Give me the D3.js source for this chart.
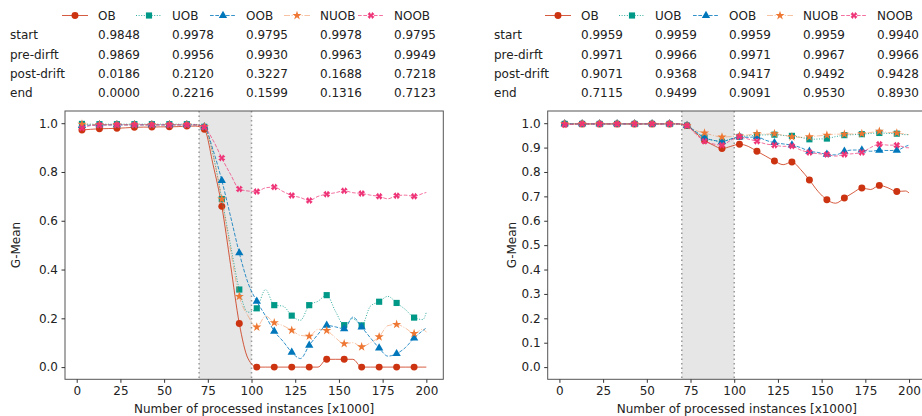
<!DOCTYPE html>
<html lang="en">
<head>
<meta charset="utf-8">
<script src="https://cdn.jsdelivr.net/npm/d3@7"></script>
<style>
  body { margin: 0; background: #fff; }
  text { font-family: "DejaVu Sans", sans-serif; fill: #222; }
</style>
</head>
<body>
<svg width="922" height="416"></svg>
<script>
// methods and table rows
var methods = ["OB", "UOB", "OOB", "NUOB", "NOOB"];
var rowLabels = ["start", "pre-dirft", "post-drift", "end"];

// table values (per row, one per method)
var tableLeft = [
    ["0.9848", "0.9978", "0.9795", "0.9978", "0.9795"],
    ["0.9869", "0.9956", "0.9930", "0.9963", "0.9949"],
    ["0.0186", "0.2120", "0.3227", "0.1688", "0.7218"],
    ["0.0000", "0.2216", "0.1599", "0.1316", "0.7123"]
];
var tableRight = [
    ["0.9959", "0.9959", "0.9959", "0.9959", "0.9940"],
    ["0.9971", "0.9966", "0.9971", "0.9967", "0.9966"],
    ["0.9071", "0.9368", "0.9417", "0.9492", "0.9428"],
    ["0.7115", "0.9499", "0.9091", "0.9530", "0.8930"]
];

// x positions of the samples [x1000]
var xs = [3, 8, 13, 18, 23, 28, 33, 38, 43, 48, 53, 58, 63, 68, 73, 78, 83, 88, 93, 98,
          103, 108, 113, 118, 123, 128, 133, 138, 143, 148, 153, 158, 163, 168, 173, 178, 183, 188, 193, 198, 200];

// left panel G-Mean
var obLeft   = [0.972, 0.975, 0.977, 0.978, 0.979, 0.981, 0.983, 0.984, 0.984, 0.985, 0.985, 0.986, 0.988, 0.988, 0.975, 0.83, 0.659, 0.42, 0.179, 0.035,
                0.0, 0.0, 0.0, 0.0, 0.0, 0.0, 0.0, 0.0, 0.032, 0.032, 0.032, 0.032, 0.0, 0.0, 0.0, 0.0, 0.0, 0.0, 0.0, 0.0, 0.0];
var uobLeft  = [0.997, 0.996, 0.996, 0.996, 0.996, 0.996, 0.996, 0.996, 0.996, 0.996, 0.996, 0.996, 0.996, 0.995, 0.985, 0.87, 0.689, 0.50, 0.318, 0.225,
                0.241, 0.318, 0.254, 0.25, 0.211, 0.192, 0.254, 0.27, 0.295, 0.229, 0.172, 0.199, 0.171, 0.25, 0.268, 0.29, 0.263, 0.236, 0.203, 0.195, 0.225];
var oobLeft  = [0.990, 0.992, 0.993, 0.993, 0.993, 0.993, 0.993, 0.993, 0.993, 0.993, 0.993, 0.993, 0.993, 0.993, 0.985, 0.89, 0.765, 0.618, 0.468, 0.345,
                0.270, 0.21, 0.147, 0.106, 0.061, 0.035, 0.089, 0.134, 0.171, 0.165, 0.157, 0.205, 0.164, 0.12, 0.078, 0.045, 0.055, 0.08, 0.119, 0.15, 0.161];
var nuobLeft = [0.996, 0.995, 0.994, 0.994, 0.994, 0.994, 0.994, 0.994, 0.994, 0.994, 0.994, 0.994, 0.994, 0.994, 0.985, 0.87, 0.689, 0.48, 0.29, 0.21,
                0.164, 0.209, 0.182, 0.17, 0.151, 0.13, 0.127, 0.155, 0.150, 0.12, 0.096, 0.10, 0.083, 0.10, 0.124, 0.17, 0.175, 0.16, 0.138, 0.155, 0.143];
var noobLeft = [0.980, 0.990, 0.992, 0.993, 0.993, 0.993, 0.993, 0.993, 0.993, 0.993, 0.993, 0.993, 0.993, 0.993, 0.983, 0.93, 0.857, 0.79, 0.730, 0.722,
                0.720, 0.735, 0.738, 0.72, 0.704, 0.695, 0.683, 0.70, 0.709, 0.715, 0.723, 0.715, 0.712, 0.705, 0.700, 0.69, 0.703, 0.705, 0.700, 0.712, 0.716];

// right panel G-Mean
var obRight   = [0.997, 0.997, 0.997, 0.997, 0.997, 0.997, 0.997, 0.997, 0.997, 0.997, 0.997, 0.997, 0.997, 0.997, 0.990, 0.96, 0.93, 0.91, 0.896, 0.905,
                 0.914, 0.905, 0.885, 0.865, 0.845, 0.83, 0.841, 0.81, 0.767, 0.72, 0.686, 0.672, 0.693, 0.715, 0.734, 0.728, 0.745, 0.735, 0.720, 0.722, 0.714];
var uobRight  = [0.997, 0.997, 0.997, 0.997, 0.997, 0.997, 0.997, 0.997, 0.997, 0.997, 0.997, 0.997, 0.997, 0.997, 0.990, 0.965, 0.941, 0.93, 0.924, 0.935,
                 0.944, 0.948, 0.951, 0.952, 0.953, 0.95, 0.948, 0.942, 0.934, 0.935, 0.937, 0.945, 0.951, 0.953, 0.955, 0.958, 0.960, 0.958, 0.957, 0.953, 0.953];
var oobRight  = [0.997, 0.997, 0.997, 0.997, 0.997, 0.997, 0.997, 0.997, 0.997, 0.997, 0.997, 0.997, 0.997, 0.997, 0.990, 0.965, 0.94, 0.93, 0.925, 0.935,
                 0.944, 0.942, 0.944, 0.93, 0.920, 0.915, 0.91, 0.90, 0.885, 0.88, 0.872, 0.87, 0.885, 0.89, 0.89, 0.885, 0.889, 0.888, 0.889, 0.905, 0.910];
var nuobRight = [0.997, 0.997, 0.997, 0.997, 0.997, 0.997, 0.997, 0.997, 0.997, 0.997, 0.997, 0.997, 0.997, 0.997, 0.990, 0.97, 0.960, 0.95, 0.943, 0.945,
                 0.948, 0.952, 0.957, 0.955, 0.957, 0.95, 0.944, 0.942, 0.944, 0.948, 0.951, 0.955, 0.955, 0.956, 0.957, 0.962, 0.967, 0.962, 0.96, 0.955, 0.953];
var noobRight = [0.994, 0.996, 0.997, 0.997, 0.997, 0.997, 0.997, 0.997, 0.997, 0.997, 0.997, 0.997, 0.997, 0.997, 0.990, 0.955, 0.926, 0.915, 0.910, 0.93,
                 0.944, 0.935, 0.926, 0.915, 0.910, 0.905, 0.906, 0.89, 0.880, 0.875, 0.872, 0.865, 0.872, 0.875, 0.880, 0.90, 0.914, 0.91, 0.910, 0.90, 0.899];

var leftTicks = [0, 0.2, 0.4, 0.6, 0.8, 1.0];
var rightTicks = [0, 0.1, 0.2, 0.3, 0.4, 0.5, 0.6, 0.7, 0.8, 0.9, 1.0];
var xTicks = [0, 25, 50, 75, 100, 125, 150, 175, 200];

// drift window
var driftStart = 70, driftEnd = 100;

// styles per method
var styles = {
    OB:   {color: "#CC3311", dash: null,            opacity: 0.8,  marker: "circle"},
    UOB:  {color: "#009988", dash: "1,1.6",         opacity: 0.8,  marker: "square"},
    OOB:  {color: "#0077BB", dash: "3.7,1.6",       opacity: 0.8,  marker: "triangle"},
    NUOB: {color: "#EE7733", dash: "6,1.6,1,1.6",   opacity: 0.45, marker: "star"},
    NOOB: {color: "#EE3377", dash: "3.7,1.6",       opacity: 0.7,  marker: "x"}
};

var svg = d3.select("svg");

function markerPath(kind) {
    if (kind === "circle") return d3.symbol(d3.symbolCircle, 38)();
    if (kind === "square") return d3.symbol(d3.symbolSquare, 38)();
    if (kind === "triangle") return d3.symbol(d3.symbolTriangle, 30)();
    if (kind === "star") return d3.symbol(d3.symbolStar, 26)();
    // fat filled X, reads as a notched square at this size
    var h = 3.5, t = 2.3, c = 1.1;
    return "M" + (-h) + "," + (-h + t) + "L" + (-h + t) + "," + (-h) + "L0," + (-c) +
           "L" + (h - t) + "," + (-h) + "L" + h + "," + (-h + t) + "L" + c + ",0" +
           "L" + h + "," + (h - t) + "L" + (h - t) + "," + h + "L0," + c +
           "L" + (-h + t) + "," + h + "L" + (-h) + "," + (h - t) + "L" + (-c) + ",0Z";
}

function drawPanel(p) {
    var x = d3.scaleLinear().domain([-6.7, 209.7]).range([p.left, p.right]);
    var y = d3.scaleLinear().domain([-0.05, 1.05]).range([379.3, 111]);

    // legend
    var leg = svg.append("g");
    methods.forEach(function(m, i) {
        var s = styles[m], lx = p.cols[i];
        leg.append("line")
            .attr("x1", lx - 36).attr("x2", lx - 10)
            .attr("y1", 15.5).attr("y2", 15.5)
            .attr("stroke", s.color).attr("stroke-width", 1)
            .attr("stroke-opacity", s.opacity)
            .attr("stroke-dasharray", s.dash);
        leg.append("path")
            .attr("d", markerPath(s.marker))
            .attr("transform", "translate(" + (lx - 23) + ",15.5)")
            .attr("fill", s.color);
        leg.append("text")
            .attr("x", lx).attr("y", 20)
            .attr("font-size", "12px")
            .text(m);
    });

    // table under the legend
    var rowsY = [34.3, 54, 73.3, 92.7];
    p.table.forEach(function(row, r) {
        svg.append("text")
            .attr("x", p.rowX).attr("y", rowsY[r] + 4.5)
            .attr("font-size", "12px")
            .text(rowLabels[r]);
        row.forEach(function(v, c) {
            svg.append("text")
                .attr("x", p.cols[c]).attr("y", rowsY[r] + 4.5)
                .attr("font-size", "12px")
                .text(v);
        });
    });

    var g = svg.append("g");

    // drift window
    g.append("rect")
        .attr("x", x(driftStart)).attr("y", y(1.05))
        .attr("width", x(driftEnd) - x(driftStart))
        .attr("height", y(-0.05) - y(1.05))
        .attr("fill", "#e6e6e6");
    [driftStart, driftEnd].forEach(function(d) {
        g.append("line")
            .attr("x1", x(d)).attr("x2", x(d))
            .attr("y1", y(1.05)).attr("y2", y(-0.05))
            .attr("stroke", "#999").attr("stroke-width", 1.5)
            .attr("stroke-dasharray", "1.5,3");
    });

    // series
    var line = d3.line()
        .x(function(d) { return x(d[0]); })
        .y(function(d) { return y(d[1]); })
        .curve(d3.curveMonotoneX);

    methods.forEach(function(m, i) {
        var s = styles[m];
        var pts = xs.map(function(v, k) { return [v, p.series[i][k]]; });
        g.append("path")
            .datum(pts)
            .attr("d", line)
            .attr("fill", "none")
            .attr("stroke", s.color).attr("stroke-width", 1)
            .attr("stroke-opacity", s.opacity)
            .attr("stroke-dasharray", s.dash);
        g.selectAll(null)
            .data(pts.filter(function(d, k) { return k % 2 === 0 && k < 40; }))
            .enter().append("path")
            .attr("d", markerPath(s.marker))
            .attr("transform", function(d) { return "translate(" + x(d[0]) + "," + y(d[1]) + ")"; })
            .attr("fill", s.color);
    });

    // frame
    g.append("rect")
        .attr("x", p.left).attr("y", 111)
        .attr("width", p.right - p.left).attr("height", 379.3 - 111)
        .attr("fill", "none").attr("stroke", "#555").attr("stroke-width", 1);

    // axes
    var xAxis = g.append("g")
        .attr("transform", "translate(0,379.3)")
        .call(d3.axisBottom(x).tickValues(xTicks).tickSize(3.5).tickPadding(3.5));
    var yAxis = g.append("g")
        .attr("transform", "translate(" + p.left + ",0)")
        .call(d3.axisLeft(y).tickValues(p.yTicks).tickFormat(d3.format(".1f")).tickSize(3.5).tickPadding(3.5));
    [xAxis, yAxis].forEach(function(a) {
        a.select(".domain").remove();
        a.selectAll("line").attr("stroke", "#333");
        a.selectAll("text").attr("font-size", "12px").attr("font-family", "DejaVu Sans").attr("fill", "#222");
    });

    svg.append("text")
        .attr("x", (p.left + p.right) / 2).attr("y", 413)
        .attr("text-anchor", "middle")
        .attr("font-size", "12px")
        .text("Number of processed instances [x1000]");
    svg.append("text")
        .attr("transform", "translate(" + p.ylabX + ",245) rotate(-90)")
        .attr("text-anchor", "middle")
        .attr("font-size", "12px")
        .text("G-Mean");
}

drawPanel({
    left: 65, right: 443.3, rowX: 10, ylabX: 20,
    cols: [98, 172, 246, 320, 394],
    table: tableLeft, yTicks: leftTicks,
    series: [obLeft, uobLeft, oobLeft, nuobLeft, noobLeft]
});
drawPanel({
    left: 547.7, right: 926, rowX: 494, ylabX: 516,
    cols: [581, 655, 729, 803, 877],
    table: tableRight, yTicks: rightTicks,
    series: [obRight, uobRight, oobRight, nuobRight, noobRight]
});
</script>
</body>
</html>
